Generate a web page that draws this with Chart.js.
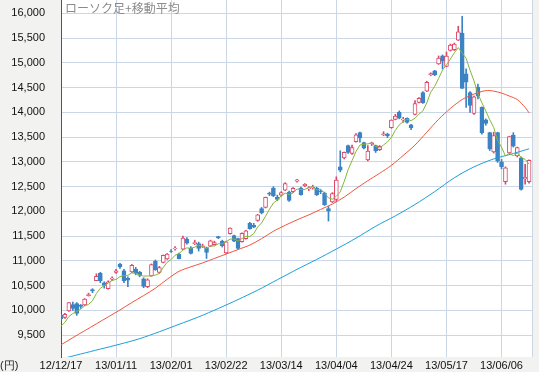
<!DOCTYPE html>
<html lang="ja">
<head>
<meta charset="utf-8">
<title>ローソク足+移動平均</title>
<script src="https://cdn.jsdelivr.net/npm/chart.js@4.4.0/dist/chart.umd.min.js"></script>
<style>
  html, body { margin: 0; padding: 0; background: #f2f2f0; }
  canvas { display: block; }
</style>
</head>
<body>
<canvas id="chart" width="539" height="372"></canvas>
<script>
// trading days (yy/mm/dd)
const dates = [
  '12/12/17','12/12/18','12/12/19','12/12/20','12/12/21','12/12/25','12/12/26','12/12/27','12/12/28',
  '13/01/04','13/01/07','13/01/08','13/01/09','13/01/10','13/01/11','13/01/15','13/01/16','13/01/17','13/01/18',
  '13/01/21','13/01/22','13/01/23','13/01/24','13/01/25','13/01/28','13/01/29','13/01/30','13/01/31',
  '13/02/01','13/02/04','13/02/05','13/02/06','13/02/07','13/02/08','13/02/12','13/02/13','13/02/14','13/02/15',
  '13/02/18','13/02/19','13/02/20','13/02/21','13/02/22','13/02/25','13/02/26','13/02/27','13/02/28',
  '13/03/01','13/03/04','13/03/05','13/03/06','13/03/07','13/03/08','13/03/11','13/03/12','13/03/13','13/03/14',
  '13/03/15','13/03/18','13/03/19','13/03/21','13/03/22','13/03/25','13/03/26','13/03/27','13/03/28','13/03/29',
  '13/04/01','13/04/02','13/04/03','13/04/04','13/04/05','13/04/08','13/04/09','13/04/10','13/04/11','13/04/12',
  '13/04/15','13/04/16','13/04/17','13/04/18','13/04/19','13/04/22','13/04/23','13/04/24','13/04/25','13/04/26','13/04/30',
  '13/05/01','13/05/02','13/05/07','13/05/08','13/05/09','13/05/10','13/05/13','13/05/14','13/05/15','13/05/16','13/05/17',
  '13/05/20','13/05/21','13/05/22','13/05/23','13/05/24','13/05/27','13/05/28','13/05/29','13/05/30','13/05/31',
  '13/06/03','13/06/04','13/06/05','13/06/06','13/06/07','13/06/10','13/06/11','13/06/12','13/06/13','13/06/14','13/06/17'
];

const open = [
  9900,9860,9990,10120,10140,10110,10110,10300,10420,
  10604,10750,10560,10440,10630,10770,10930,10800,10650,10780,
  10830,10770,10640,10480,10700,10990,10770,10970,11040,
  11200,11250,11140,11240,11440,11260,11350,11350,11290,11260,
  11300,11330,11490,11400,11160,11550,11510,11450,11390,
  11450,11760,11720,11820,12060,12080,12370,12470,12290,12330,
  12430,12390,12400,12610,12470,12520,12460,12480,12470,12410,
  12370,12060,12190,12240,12900,13080,13330,13170,13410,13590,
  13390,13040,13370,13330,13245,13550,13560,13690,13860,14000,13850,
  13880,13750,13960,14200,14400,14430,14760,14840,14980,15140,14930,
  15250,15265,15460,15600,14780,14400,13980,14510,14100,13850,
  13590,13200,13590,13000,12600,13180,13540,13120,13080,12660,12600
];
const high = [
  9920,9940,10160,10170,10160,10120,10240,10350,10440,
  10740,10770,10580,10600,10680,10830,10950,10830,10680,10930,
  10870,10790,10660,10640,10940,11020,10890,11120,11150,
  11230,11290,11160,11500,11470,11290,11420,11380,11340,11280,
  11420,11400,11500,11420,11400,11670,11520,11460,11570,
  11620,11780,11760,11940,12080,12290,12390,12500,12330,12400,
  12580,12410,12480,12650,12490,12560,12500,12530,12490,12440,
  12390,12100,12380,12700,13225,13200,13340,13340,13570,13600,
  13400,13330,13400,13340,13330,13610,13580,13850,13960,14030,13900,
  13890,13760,14240,14300,14420,14630,14800,14850,15140,15160,15220,
  15380,15400,15740,15942,14880,14420,14330,14570,14110,13870,
  13600,13600,13600,13050,12900,13520,13590,13300,13100,12950,13040
];
const low = [
  9800,9840,9980,10000,9900,10040,10100,10290,10360,
  10600,10560,10450,10430,10600,10750,10850,10560,10480,10760,
  10720,10680,10460,10460,10690,10810,10750,10960,11030,
  11170,11220,11040,11230,11340,11140,11330,11200,11270,11050,
  11290,11320,11450,11280,11150,11540,11390,11240,11380,
  11440,11640,11670,11800,11950,12070,12320,12300,12220,12310,
  12420,12200,12380,12590,12330,12500,12420,12450,12320,12360,
  12120,11805,12180,12200,12800,13060,13170,13150,13400,13400,
  13260,13020,13330,13190,13230,13530,13490,13680,13850,13870,13800,
  13780,13650,13950,14190,14180,14420,14740,14740,14970,14880,14920,
  15240,15250,15450,14484,14100,14000,13960,14270,13560,13740,
  13230,13180,12990,12860,12550,13170,13300,13100,12430,12550,12570
];
const close = [
  9829,9923,10160,10039,9940,10080,10230,10323,10395,
  10688,10599,10508,10579,10653,10802,10879,10600,10610,10913,
  10748,10710,10487,10620,10927,10824,10867,11114,11139,
  11191,11260,11047,11464,11357,11153,11369,11251,11307,11174,
  11408,11372,11468,11309,11386,11663,11399,11254,11559,
  11606,11652,11683,11932,11968,12284,12349,12315,12240,12381,
  12561,12221,12468,12636,12339,12546,12472,12494,12336,12398,
  12135,12003,12362,12635,12834,13193,13192,13288,13549,13485,
  13276,13221,13383,13220,13316,13568,13530,13843,13926,13884,13861,
  13799,13694,14180,14286,14191,14608,14782,14758,15096,15037,15138,
  15361,15381,15627,14484,14612,14143,14312,14326,13589,13775,
  13262,13534,13015,12904,12878,13514,13318,13289,12445,12687,13033
];

// 5-day moving average (green), one per trading day
const ma5 = [
  9683,9762,9878,9938,9978,10028,10090,10122,10194,10343,
  10447,10503,10554,10605,10628,10684,10703,10709,10761,10750,
  10716,10694,10696,10698,10714,10745,10870,10974,11027,11114,
  11150,11220,11264,11256,11278,11319,11287,11251,11302,11302,
  11346,11346,11389,11440,11445,11402,11452,11496,11494,11551,
  11686,11768,11904,12043,12170,12231,12314,12369,12344,12374,
  12453,12445,12442,12492,12497,12437,12449,12367,12273,12247,
  12307,12394,12605,12843,13028,13211,13341,13358,13364,13383,
  13317,13283,13342,13403,13495,13637,13750,13809,13863,13833,
  13884,13964,14030,14192,14409,14525,14687,14856,14962,15078,
  15203,15309,15198,15093,14849,14636,14375,14196,14029,13853,
  13697,13435,13298,13119,13169,13126,13181,13089,13051,12955
];

// 25-day moving average (red), read at these day indices
const ma25Idx = [0,3,6,9,12,15,18,21,24,27,30,33,36,39,42,45,48,51,54,57,60,63,66,69,72,75,78,81,84,87,90,93,96,99,102,105,108,110,112,114,116,118,119];
const ma25 = [9306,9450,9590,9730,9870,10010,10160,10300,10450,10630,10790,10880,10960,11050,11140,11230,11320,11450,11600,11720,11830,11930,12040,12150,12290,12460,12620,12770,12930,13130,13340,13600,13860,14080,14260,14370,14440,14430,14390,14330,14260,14100,13990];

// 75-day moving average (blue)
const ma75Idx = [0,5,10,15,20,25,30,35,40,45,50,55,60,65,70,75,80,85,90,95,100,105,110,115,119];
const ma75 = [9020,9120,9220,9320,9430,9570,9720,9870,10040,10220,10410,10620,10830,11030,11240,11460,11700,11910,12140,12400,12680,12900,13060,13170,13265];

const xTickIdx = [0,14,28,42,56,70,84,98,112];
const yTicks = [9500,10000,10500,11000,11500,12000,12500,13000,13500,14000,14500,15000,15500,16000];

const UP = '#dc4868';
const DOWN = '#3b83c4';
const GRID = '#cbd6e6';

const isUp = i => close[i] >= open[i];

const frame = {
  id: 'frame',
  beforeDraw(chart) {
    const { ctx, chartArea: a } = chart;
    ctx.save();
    ctx.fillStyle = '#f2f2f0';
    ctx.fillRect(0, 0, chart.width, chart.height);
    ctx.fillStyle = '#ffffff';
    ctx.fillRect(a.left, a.top, a.right - a.left, a.bottom - a.top);
    ctx.restore();
  },
  afterDraw(chart) {
    const { ctx, chartArea: a } = chart;
    ctx.save();
    ctx.strokeStyle = GRID;
    ctx.lineWidth = 1;
    ctx.beginPath();
    ctx.moveTo(a.right - 0.5, a.top);
    ctx.lineTo(a.right - 0.5, a.bottom);
    ctx.stroke();
    ctx.textBaseline = 'middle';
    ctx.font = '12px "Noto Sans CJK JP", sans-serif';
    ctx.fillStyle = '#8a8a8a';
    ctx.fillText('ローソク足+移動平均', a.left + 4, 8);
    ctx.font = '11px "Liberation Sans", Arial, sans-serif';
    ctx.fillStyle = '#222';
    ctx.fillText('(円)', 0, 366);
    ctx.restore();
  }
};

const fmt = v => String(v).replace(/\B(?=(\d{3})+(?!\d))/g, ',');

new Chart(document.getElementById('chart'), {
  type: 'bar',
  data: {
    datasets: [
      {
        type: 'line', label: '5日',
        data: ma5.map((v, i) => ({ x: i, y: v })),
        borderColor: '#84b83a', borderWidth: 1, pointRadius: 0, tension: 0, order: 0
      },
      {
        type: 'line', label: '25日',
        data: ma25Idx.map((x, k) => ({ x: x, y: ma25[k] })),
        borderColor: '#f0553c', borderWidth: 1, pointRadius: 0, tension: 0.3, order: 0
      },
      {
        type: 'line', label: '75日',
        data: ma75Idx.map((x, k) => ({ x: x, y: ma75[k] })),
        borderColor: '#1c9fd8', borderWidth: 1, pointRadius: 0, tension: 0.3, order: 0
      },
      {
        label: 'body',
        data: dates.map((d, i) => ({ x: i, y: [Math.min(open[i], close[i]), Math.max(open[i], close[i])] })),
        backgroundColor: c => isUp(c.dataIndex) ? '#ffffff' : DOWN,
        borderColor: c => isUp(c.dataIndex) ? UP : DOWN,
        borderWidth: 1, borderSkipped: false,
        barThickness: 4, grouped: false, order: 1
      },
      {
        label: 'wick',
        data: dates.map((d, i) => ({ x: i, y: [low[i], high[i]] })),
        backgroundColor: c => isUp(c.dataIndex) ? UP : DOWN,
        barThickness: 1, grouped: false, order: 2
      }
    ]
  },
  options: {
    responsive: false,
    animation: false,
    layout: { padding: { left: 0, right: 6, top: 0, bottom: 0 } },
    plugins: { legend: { display: false }, tooltip: { enabled: false } },
    scales: {
      x: {
        type: 'linear', min: 0, max: 120, offset: false,
        afterBuildTicks: s => { s.ticks = xTickIdx.map(v => ({ value: v })); },
        afterFit: s => { s.height = 15; s.paddingLeft = 0; s.paddingRight = 0; },
        ticks: {
          callback: v => dates[v], autoSkip: false, maxRotation: 0, padding: 2,
          color: '#111', font: { family: '"Liberation Sans", Arial, sans-serif', size: 11 }
        },
        grid: { color: GRID, drawTicks: false, offset: false },
        border: { display: false }
      },
      y: {
        min: 9060, max: 16270,
        afterBuildTicks: s => { s.ticks = yTicks.map(v => ({ value: v })); },
        afterFit: s => { s.width = 61; s.paddingTop = 0; s.paddingBottom = 0; },
        ticks: {
          callback: v => fmt(v), padding: 16,
          color: '#111', font: { family: '"Liberation Sans", Arial, sans-serif', size: 11 }
        },
        grid: { color: GRID, drawTicks: false },
        border: { color: '#555' }
      }
    }
  },
  plugins: [frame]
});
</script>
</body>
</html>
